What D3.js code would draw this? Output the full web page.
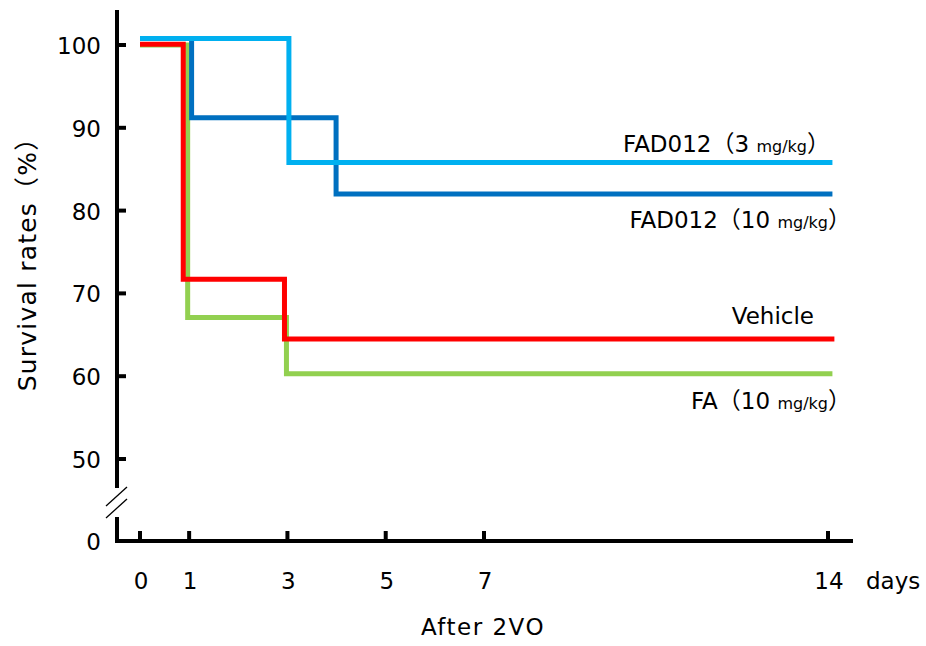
<!DOCTYPE html>
<html><head><meta charset="utf-8">
<script src="https://cdn.jsdelivr.net/npm/d3@7"></script>
<style>body{margin:0;background:#fff}svg{display:block}text{font-family:"DejaVu Sans","Noto Sans CJK JP",sans-serif;fill:#000}</style>
</head><body>
<script>
const xTicks = [0, 1, 3, 5, 7, 14];
const yTicks = [0, 50, 60, 70, 80, 90, 100];
const seriesNames = ["FA", "Vehicle", "FAD012 10", "FAD012 3"];
const seriesColors = ["#92D050", "#FF0000", "#0070C0", "#00B0F0"];
// step survival curves: [day, survival %]
const faSteps = [[0, 100], [0.97, 67.1], [2.98, 60.3], [14.09, 60.3]];
const vehicleSteps = [[0, 100.1], [0.88, 71.7], [2.94, 64.5], [14.13, 64.5]];
const fad10Steps = [[1.05, 100.8], [1.05, 91.2], [3.99, 82.0], [14.09, 82.0]];
const fad3Steps = [[0, 100.8], [3.03, 85.8], [14.09, 85.8]];
const labelMain = ["FAD012（3 ", "FAD012（10 ", "Vehicle", "FA（10 "];
const labelUnit = ["mg/kg", "mg/kg", "", "mg/kg"];
const labelEnd = ["）", "）", "", "）"];
const labelValue = [85.8, 82.0, 64.5, 60.3];

const W = 926, H = 646;
const svg = d3.select("body").append("svg").attr("width", W).attr("height", H);
const x = d3.scaleLinear().domain([0, 14]).range([140, 828]);
const y = d3.scaleLinear().domain([0, 50, 100]).range([541, 459, 45]);
const axisX = 117, baseY = 541;

// y axis with break
svg.append("line").attr("x1", axisX).attr("x2", axisX).attr("y1", 10).attr("y2", 488)
  .attr("stroke", "#000").attr("stroke-width", 4);
svg.append("line").attr("x1", axisX).attr("x2", axisX).attr("y1", 517).attr("y2", baseY + 2)
  .attr("stroke", "#000").attr("stroke-width", 4);
[[106, 506, 127, 487], [106, 518, 127, 499]].forEach(d => {
  svg.append("line").attr("x1", d[0]).attr("y1", d[1]).attr("x2", d[2]).attr("y2", d[3])
    .attr("stroke", "#000").attr("stroke-width", 1.3);
});
// x axis
svg.append("line").attr("x1", axisX - 2).attr("x2", 853).attr("y1", baseY).attr("y2", baseY)
  .attr("stroke", "#000").attr("stroke-width", 4);

// y ticks
yTicks.forEach(t => {
  if (t > 0) svg.append("line").attr("x1", axisX).attr("x2", axisX + 9).attr("y1", y(t)).attr("y2", y(t))
    .attr("stroke", "#000").attr("stroke-width", 4);
  svg.append("text").attr("x", 101).attr("y", y(t) + 9).attr("text-anchor", "end")
    .attr("font-size", 23).text(t);
});
// x ticks
xTicks.forEach(t => {
  svg.append("line").attr("x1", x(t)).attr("x2", x(t)).attr("y1", baseY).attr("y2", baseY - 10)
    .attr("stroke", "#000").attr("stroke-width", 4);
  svg.append("text").attr("x", x(t) + 1).attr("y", 589).attr("text-anchor", "middle")
    .attr("font-size", 23).text(t);
});
svg.append("text").attr("x", 866).attr("y", 589).attr("font-size", 23).text("days");
svg.append("text").attr("x", 483).attr("y", 635).attr("text-anchor", "middle").attr("font-size", 23)
  .attr("letter-spacing", 1.5).text("After 2VO");
svg.append("text").attr("transform", "translate(36,258) rotate(-90)").attr("text-anchor", "middle")
  .attr("font-size", 25).attr("letter-spacing", 1.2).text("Survival rates（%）");

// curves
const line = d3.line().x(d => x(d[0])).y(d => y(d[1])).curve(d3.curveStepAfter);
[faSteps, vehicleSteps, fad10Steps, fad3Steps].forEach((s, i) => {
  svg.append("path").attr("d", line(s)).attr("fill", "none")
    .attr("stroke", seriesColors[i]).attr("stroke-width", 5).attr("stroke-linejoin", "miter")
    .attr("class", seriesNames[i]);
});

// labels (right edge / vertical offset relative to each curve)
const labelRight = [830, 851, 814, 851];
const labelDy = [-11, 34, -15, 35];
labelMain.forEach((m, i) => {
  const t = svg.append("text").attr("x", labelRight[i]).attr("y", y(labelValue[i]) + labelDy[i])
    .attr("text-anchor", "end").attr("font-size", 23);
  t.append("tspan").text(m);
  if (labelUnit[i]) t.append("tspan").attr("font-size", 16).text(labelUnit[i]);
  if (labelEnd[i]) t.append("tspan").text(labelEnd[i]);
});
</script>
</body></html>
